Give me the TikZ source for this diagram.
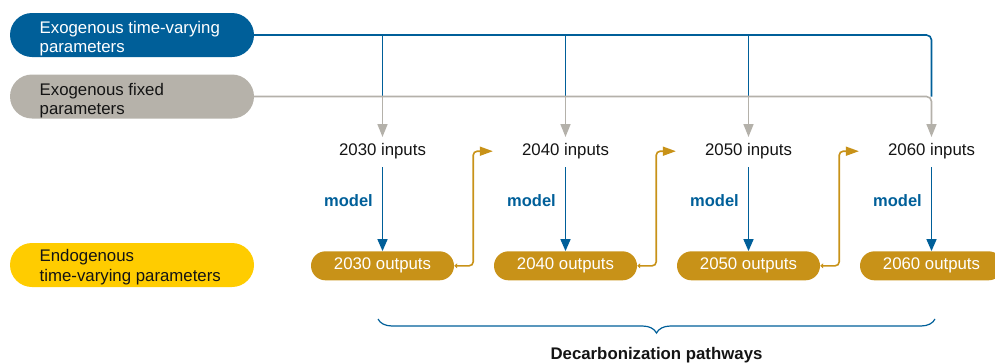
\documentclass[tikz,border=0pt]{standalone}
\usepackage{fontspec}
\setmainfont{Liberation Sans}
\usetikzlibrary{arrows.meta,decorations.pathreplacing,calc}
\definecolor{exoblue}{RGB}{0,95,153}
\definecolor{exogray}{RGB}{182,178,170}
\definecolor{lgray}{RGB}{180,177,170}
\definecolor{endoyellow}{RGB}{255,204,0}
\definecolor{gold}{RGB}{200,146,24}
\definecolor{darktext}{RGB}{20,20,20}
\begin{document}
\begin{tikzpicture}[x=1pt,y=-1pt,
  font=\fontsize{16.8}{19.3}\selectfont,
  param/.style={minimum width=244pt, minimum height=44pt, rounded corners=22pt, inner sep=0pt},
  ptext/.style={anchor=base west, align=left, inner sep=0pt},
  intext/.style={anchor=base, text height=12.5pt, text depth=3.5pt, inner xsep=0pt, inner ysep=8pt, text=darktext},
  outbox/.style={fill=gold, text=white, minimum width=143pt, minimum height=29pt, rounded corners=14.5pt, inner sep=0pt},
  modeltext/.style={anchor=base east, inner sep=0pt, text=exoblue, font=\fontsize{16.5}{19}\selectfont\bfseries},
  blueline/.style={draw=exoblue, line width=1.6pt},
  grayline/.style={draw=lgray, line width=1.6pt},
  goldline/.style={draw=gold, line width=1.6pt},
  downtip/.style={-{Triangle[length=12pt,width=10pt]}},
]
\useasboundingbox (0,0) rectangle (995,362);
\clip (0,0) rectangle (995,362);

% parameter boxes
\node[param, fill=exoblue] (tv) at (132,35) {};
\node[ptext, text=white] (tvt) at (39.5,52.6) {Exogenous time-varying\\parameters};
\node[param, fill=exogray] (fx) at (132,96.5) {};
\node[ptext, text=darktext] (fxt) at (39.5,114.3) {Exogenous fixed\\parameters};
\node[param, fill=endoyellow] (en) at (132,265) {};
\node[ptext, text=darktext] (ent) at (39.5,281) {Endogenous\\time-varying parameters};

% inputs, outputs, model labels
\foreach \i/\yr in {1/2030,2/2040,3/2050,4/2060}{
  \pgfmathsetmacro{\xx}{382.5+183*(\i-1)}
  \node[intext] (in\i) at (\xx,155.7) {\yr\ inputs};
  \node[outbox] (out\i) at (\xx,265.8) {\yr\ outputs};
  \node[modeltext] (m\i) at (\xx-9.5,206) {model};
  \draw[blueline, downtip] (in\i.south) -- (out\i.north);
}

% exogenous time-varying (blue) feed
\draw[blueline, rounded corners=5pt] (tv.east) -| (in4 |- fx.east);
\foreach \i in {1,2,3}{
  \draw[blueline] (in\i |- tv.east) -- (in\i |- fx.east);
}
% exogenous fixed (gray) feed
\draw[grayline, rounded corners=5pt, -{Triangle[length=13pt,width=10pt]}, shorten >=-2pt] (fx.east) -| (in4.north);
\foreach \i in {1,2,3}{
  \draw[grayline, -{Triangle[length=13pt,width=10pt]}, shorten >=-2pt] (in\i |- fx.east) -- (in\i.north);
}

% outputs feed next inputs
\foreach \i/\j in {1/2,2/3,3/4}{
  \draw[goldline, rounded corners=4pt, {Triangle[length=3pt,width=5pt]}-{Triangle[length=13pt,width=9pt]}, shorten >=29pt]
    (out\i.east) -- ++(19,0) |- (in\j.west);
}

% brace
\coordinate (bl) at (378,319);
\coordinate (br) at (935,319);
\draw[draw=exoblue, line width=1.2pt, decorate, decoration={brace, mirror, amplitude=14pt}] (bl) -- (br);
\node[anchor=base, inner sep=0pt, text=darktext, font=\fontsize{16.8}{19}\selectfont\bfseries] (dp) at (656.5,359) {Decarbonization pathways};
\end{tikzpicture}
\end{document}
